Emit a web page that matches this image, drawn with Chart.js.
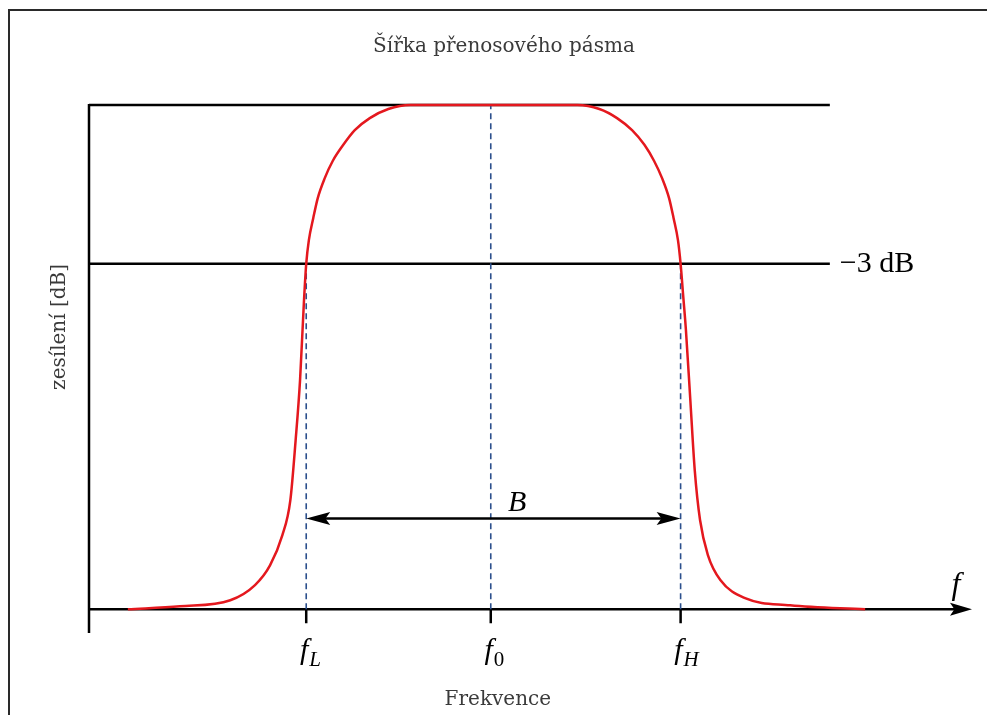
<!DOCTYPE html>
<html>
<head>
<meta charset="utf-8">
<script src="https://cdn.jsdelivr.net/npm/chart.js@4"></script>
<style>
  body { margin: 0; background: #fff; }
  #wrap { position: relative; width: 987px; height: 715px; overflow: hidden; }
  #frame { position: absolute; left: 8px; top: 9px; right: -4px; bottom: -4px;
           border-top: 2px solid #2a2a2a; border-left: 2px solid #2a2a2a; pointer-events: none; }
</style>
</head>
<body>
<div id="wrap">
  <canvas id="chart" width="987" height="715"></canvas>
  <div id="frame"></div>
</div>
<script>
// frequency (arbitrary units) and normalised gain
const freq = [4.4, 10.3, 16.0, 18.8, 20.5, 21.9, 22.8, 23.4, 23.9, 24.35, 24.6, 24.9, 25.4, 25.9, 26.7, 27.6, 28.8, 30.1, 31.8, 33.9, 36.4,
              55.3, 57.8, 59.8, 61.5, 62.9, 64.0, 64.9, 65.7, 66.2, 66.7, 67.0, 67.3, 67.6, 68.1, 68.6, 69.2, 70.1, 71.5, 74.3, 79.4, 87.9];
const gain = [0, 0.006, 0.018, 0.048, 0.087, 0.147, 0.216, 0.335, 0.454, 0.613, 0.685, 0.732, 0.776, 0.815, 0.855, 0.889, 0.921, 0.950, 0.974, 0.992, 1,
              1, 0.992, 0.974, 0.950, 0.921, 0.889, 0.855, 0.815, 0.776, 0.732, 0.685, 0.62, 0.554, 0.415, 0.276, 0.177, 0.107, 0.058, 0.022, 0.008, 0];

// marked frequencies f_L, f_0, f_H
const markFreq = [24.6, 45.5, 67.0];
const markSub = ['L', '0', 'H'];
const markTop = [0.685, 1, 0.685];

// reference levels
const topGain = 1;
const gain3dB = 0.685;
const levelEnd = 83.9;
const levelLabel = '\u22123 dB';

// bandwidth arrow
const bandGain = 0.18;
const bandLabelFreq = 48.5;

const titleText = 'Šířka přenosového pásma';
const xTitle = 'Frekvence';
const yTitle = 'zesílení [dB]';

const lineColor = '#000';
const dashColor = '#2b4f8c';

function arrowHead(ctx, tipX, tipY, dir, len, half) {
    ctx.beginPath();
    ctx.moveTo(tipX, tipY);
    ctx.lineTo(tipX - dir * len, tipY - half);
    ctx.lineTo(tipX - dir * len * 0.8, tipY);
    ctx.lineTo(tipX - dir * len, tipY + half);
    ctx.closePath();
    ctx.fill();
}

// axes go under the curve
const axesPlugin = {
    id: 'axes',
    beforeDatasetsDraw(chart) {
        const { ctx, chartArea: a, scales: { x, y } } = chart;
        const y0 = y.getPixelForValue(0);
        ctx.save();
        ctx.strokeStyle = lineColor;
        ctx.fillStyle = lineColor;
        ctx.lineWidth = 2.5;
        ctx.beginPath();
        ctx.moveTo(a.left, a.top - 1);
        ctx.lineTo(a.left, a.bottom);
        ctx.moveTo(a.left, y0);
        ctx.lineTo(a.right - 16, y0);
        // ticks
        markFreq.forEach(f => {
            const px = x.getPixelForValue(f);
            ctx.moveTo(px, y0);
            ctx.lineTo(px, y0 + 14);
        });
        ctx.stroke();
        arrowHead(ctx, a.right, y0, 1, 22, 6.5);
        ctx.restore();
    }
};

// labels and the bandwidth arrow on top
const labelPlugin = {
    id: 'labels',
    afterDatasetsDraw(chart) {
        const { ctx, chartArea: a, scales: { x, y } } = chart;
        const y0 = y.getPixelForValue(0);
        ctx.save();
        ctx.fillStyle = lineColor;
        ctx.strokeStyle = lineColor;

        // bandwidth arrow
        const by = y.getPixelForValue(bandGain);
        const bl = x.getPixelForValue(markFreq[0]);
        const br = x.getPixelForValue(markFreq[2]);
        ctx.lineWidth = 2.5;
        ctx.beginPath();
        ctx.moveTo(bl + 15, by);
        ctx.lineTo(br - 15, by);
        ctx.stroke();
        arrowHead(ctx, bl, by, -1, 24, 6.5);
        arrowHead(ctx, br, by, 1, 24, 6.5);

        ctx.font = 'italic 30px "Liberation Serif"';
        ctx.textAlign = 'center';
        ctx.textBaseline = 'alphabetic';
        ctx.fillText('B', x.getPixelForValue(bandLabelFreq), by - 8);

        // f near the axis arrow
        ctx.font = 'italic 32px "Liberation Serif"';
        ctx.fillText('f', a.right - 16, y0 - 15);

        // tick labels f_L, f_0, f_H
        markFreq.forEach((f, i) => {
            const px = x.getPixelForValue(f);
            ctx.font = 'italic 30px "Liberation Serif"';
            ctx.textAlign = 'right';
            ctx.fillText('f', px + 2, y0 + 50);
            ctx.font = (markSub[i] === '0' ? '' : 'italic ') + '21px "Liberation Serif"';
            ctx.textAlign = 'left';
            ctx.fillText(markSub[i], px + 3, y0 + 57);
        });

        // -3 dB
        ctx.font = '30px "Liberation Serif"';
        ctx.textAlign = 'left';
        ctx.textBaseline = 'middle';
        ctx.fillText(levelLabel, x.getPixelForValue(levelEnd) + 10, y.getPixelForValue(gain3dB));

        // titles
        ctx.fillStyle = '#3a3a3a';
        ctx.font = '20px "DejaVu Serif"';
        ctx.textAlign = 'center';
        ctx.textBaseline = 'alphabetic';
        ctx.fillText(titleText, x.getPixelForValue(47), 52);
        ctx.fillText(xTitle, x.getPixelForValue(46.3), 705);
        ctx.translate(60, y.getPixelForValue(0.56));
        ctx.rotate(-Math.PI / 2);
        ctx.textBaseline = 'middle';
        ctx.fillText(yTitle, 0, 0);
        ctx.restore();
    }
};

const dashed = markFreq.map((f, i) => ({
    data: [{ x: f, y: 0 }, { x: f, y: markTop[i] }],
    borderColor: dashColor,
    borderWidth: 1.6,
    borderDash: [6, 4],
    pointRadius: 0,
    clip: false,
    order: 2
}));

const levels = [topGain, gain3dB].map(g => ({
    data: [{ x: 0, y: g }, { x: levelEnd, y: g }],
    borderColor: lineColor,
    borderWidth: 2.5,
    pointRadius: 0,
    clip: false,
    order: 3
}));

new Chart(document.getElementById('chart'), {
    type: 'line',
    data: {
        datasets: [
            {
                data: freq.map((f, i) => ({ x: f, y: gain[i] })),
                borderColor: '#e4181e',
                borderWidth: 2.5,
                pointRadius: 0,
                cubicInterpolationMode: 'monotone',
                clip: false,
                order: 1
            },
            ...dashed,
            ...levels
        ]
    },
    options: {
        responsive: false,
        animation: false,
        layout: { padding: { left: 89, right: 15, top: 105, bottom: 82 } },
        plugins: { legend: { display: false }, tooltip: { enabled: false }, title: { display: false } },
        scales: {
            x: { type: 'linear', min: 0, max: 100, display: false },
            y: { type: 'linear', min: -0.047, max: 1, display: false }
        }
    },
    plugins: [axesPlugin, labelPlugin]
});
</script>
</body>
</html>
